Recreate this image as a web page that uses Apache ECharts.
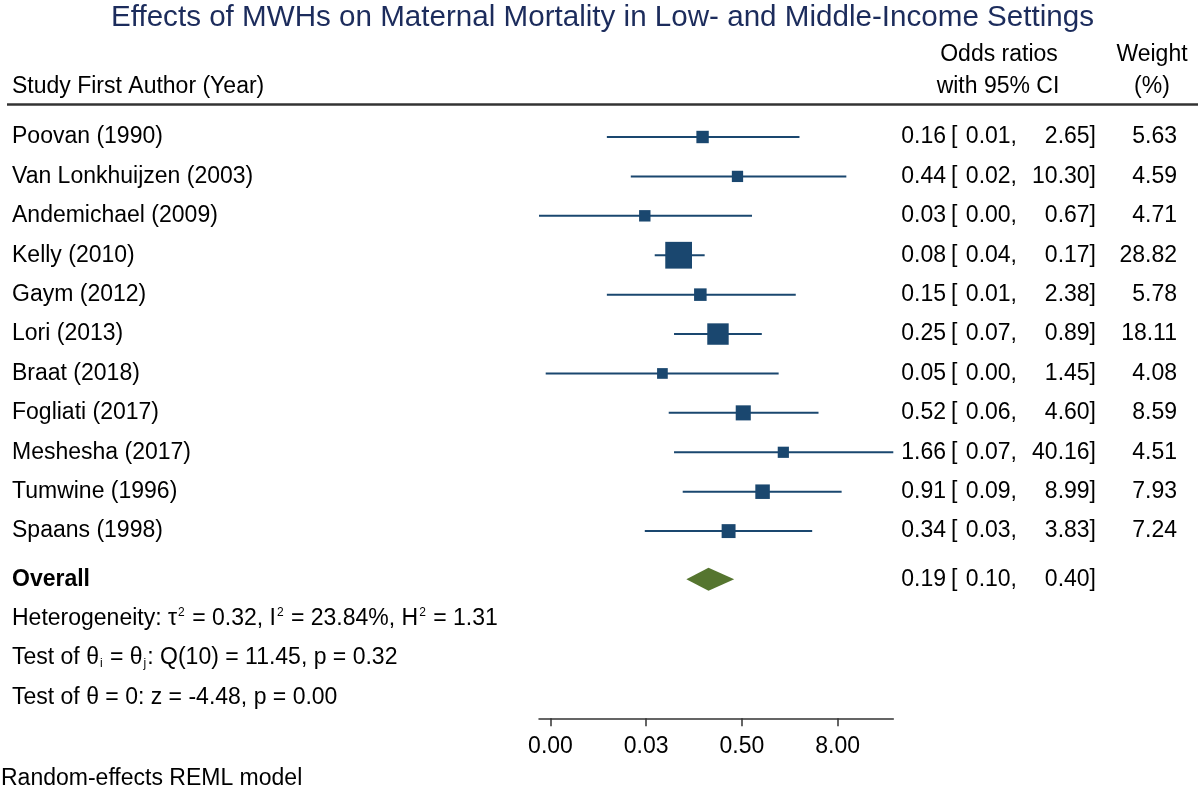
<!DOCTYPE html>
<html>
<head>
<meta charset="utf-8">
<script src="https://cdn.jsdelivr.net/npm/echarts@6/dist/echarts.min.js"></script>
<style>
html, body { margin: 0; padding: 0; background: #ffffff; }
#chart { width: 1200px; height: 790px; }
</style>
</head>
<body>
<div id="chart"></div>
<script>
// ---------------- data ----------------
const studies = ['Poovan (1990)', 'Van Lonkhuijzen (2003)', 'Andemichael (2009)', 'Kelly (2010)', 'Gaym (2012)',
  'Lori (2013)', 'Braat (2018)', 'Fogliati (2017)', 'Meshesha (2017)', 'Tumwine (1996)', 'Spaans (1998)'];
const oddsRatio = [0.16, 0.44, 0.03, 0.08, 0.15, 0.25, 0.05, 0.52, 1.66, 0.91, 0.34];
const ciLower = [0.01, 0.02, 0.0014, 0.04, 0.01, 0.07, 0.0017, 0.06, 0.07, 0.09, 0.03];
const ciUpper = [2.65, 10.30, 0.67, 0.17, 2.38, 0.89, 1.45, 4.60, 40.16, 8.99, 3.83];
const weights = [5.63, 4.59, 4.71, 28.82, 5.78, 18.11, 4.08, 8.59, 4.51, 7.93, 7.24];
const overallLabel = 'Overall';
const overallOR = 0.19, overallLower = 0.10, overallUpper = 0.40;
const statsLines = [
  'Heterogeneity: τ{sup|2} = 0.32, I{sup|2} = 23.84%, H{sup|2} = 1.31',
  'Test of θ{sub|i} = θ{sub|j}: Q(10) = 11.45, p = 0.32',
  'Test of θ = 0: z = -4.48, p = 0.00'
];
const tickValues = [0.001953125, 0.03125, 0.5, 8];
const tickLabels = ['0.00', '0.03', '0.50', '8.00'];
const titleText = 'Effects of MWHs on Maternal Mortality in Low- and Middle-Income Settings';
const footText = 'Random-effects REML model';

// ---------------- styling ----------------
const FONT = '"Liberation Sans", Arial, Helvetica, sans-serif';
const FS = 23;
const NAVY = '#1a476f';
const GREEN = '#55752f';
const L2 = v => Math.log2(v);
const xMin = L2(Math.min(...ciLower));
const xMax = L2(Math.max(...ciUpper));
const nStudies = studies.length;
const summaryRow = j => nStudies + 0.22 + j; // layout rows after the studies

// text columns (pixels)
const COL_NAME = 12, COL_EST = 946, COL_BRK = 951, COL_LO = 1017, COL_UP = 1096, COL_W = 1177;

function txt(text, x, y, align, extra) {
  return {
    type: 'text',
    style: Object.assign({
      text: text, x: x, y: y, align: align, verticalAlign: 'middle',
      fontSize: FS, fontFamily: FONT, fill: '#000'
    }, extra || {})
  };
}
function ciTexts(est, lo, up, y) {
  return [
    txt(est.toFixed(2), COL_EST, y, 'right'),
    txt('[', COL_BRK, y, 'left'),
    txt(lo.toFixed(2) + ',', COL_LO, y, 'right'),
    txt(up.toFixed(2) + ']', COL_UP, y, 'right')
  ];
}

const chart = echarts.init(document.getElementById('chart'), null, { renderer: 'canvas' });

const option = {
  backgroundColor: '#ffffff',
  animation: false,
  title: {
    text: titleText,
    left: 106,
    top: -2,
    textStyle: { fontSize: 29.6, fontWeight: 'normal', color: '#1c2c5c', fontFamily: FONT }
  },
  grid: { left: 539, right: 306.7, top: 103.5, bottom: 71.7, containLabel: false },
  xAxis: {
    type: 'value',
    min: xMin,
    max: xMax,
    splitLine: { show: false },
    axisLine: { show: true, onZero: false, lineStyle: { color: '#333', width: 1.5 } },
    axisTick: { show: true, length: 8, lineStyle: { color: '#333', width: 1.5 }, customValues: tickValues.map(L2) },
    axisLabel: {
      show: true, margin: 17, fontSize: FS, fontFamily: FONT, color: '#000',
      customValues: tickValues.map(L2),
      formatter: v => tickLabels[tickValues.map(L2).findIndex(t => Math.abs(t - v) < 1e-6)]
    }
  },
  yAxis: { type: 'value', inverse: true, min: -0.85, max: 14.75, show: false },
  graphic: [
    { type: 'text', style: { text: 'Study First Author (Year)', x: 12, y: 87, verticalAlign: 'middle', fontSize: FS, fontFamily: FONT, fill: '#000' } },
    { type: 'text', style: { text: 'Odds ratios', x: 999, y: 55, align: 'center', verticalAlign: 'middle', fontSize: FS, fontFamily: FONT, fill: '#000' } },
    { type: 'text', style: { text: 'with 95% CI', x: 998, y: 87, align: 'center', verticalAlign: 'middle', fontSize: FS, fontFamily: FONT, fill: '#000' } },
    { type: 'text', style: { text: 'Weight', x: 1152, y: 55, align: 'center', verticalAlign: 'middle', fontSize: FS, fontFamily: FONT, fill: '#000' } },
    { type: 'text', style: { text: '(%)', x: 1152, y: 87, align: 'center', verticalAlign: 'middle', fontSize: FS, fontFamily: FONT, fill: '#000' } },
    { type: 'line', shape: { x1: 7, y1: 104.5, x2: 1198, y2: 104.5 }, style: { stroke: '#333', lineWidth: 2.5 } },
    { type: 'text', style: { text: footText, x: 1, y: 779, verticalAlign: 'middle', fontSize: FS, fontFamily: FONT, fill: '#000' } }
  ],
  series: [
    {
      name: 'studies',
      type: 'custom',
      coordinateSystem: 'cartesian2d',
      clip: false,
      encode: { x: 0, y: 1 },
      data: oddsRatio.map((v, i) => [L2(v), i]),
      renderItem: function (params, api) {
        const i = params.dataIndex;
        const c = api.coord([L2(oddsRatio[i]), i]);
        const lo = api.coord([L2(ciLower[i]), i]);
        const up = api.coord([L2(ciUpper[i]), i]);
        const s = 4.8 * Math.sqrt(weights[i]) + 1;
        const y = c[1];
        const children = [
          { type: 'line', shape: { x1: lo[0], y1: y, x2: up[0], y2: y }, style: { stroke: NAVY, lineWidth: 2 } },
          { type: 'rect', shape: { x: c[0] - s / 2, y: y - s / 2, width: s, height: s }, style: { fill: NAVY } },
          txt(studies[i], COL_NAME, y, 'left')
        ].concat(ciTexts(oddsRatio[i], ciLower[i], ciUpper[i], y));
        children.push(txt(weights[i].toFixed(2), COL_W, y, 'right'));
        return { type: 'group', children: children };
      }
    },
    {
      name: 'overall',
      type: 'custom',
      coordinateSystem: 'cartesian2d',
      clip: false,
      encode: { x: 0, y: 1 },
      data: [[L2(overallOR), summaryRow(0)]],
      renderItem: function (params, api) {
        const r = summaryRow(0);
        const c = api.coord([L2(overallOR), r]);
        const lo = api.coord([L2(overallLower), r]);
        const up = api.coord([L2(overallUpper), r]);
        const y = c[1], h = 23;
        const children = [
          { type: 'polygon', shape: { points: [[lo[0], y], [c[0], y - h / 2], [up[0], y], [c[0], y + h / 2]] }, style: { fill: GREEN } },
          txt(overallLabel, COL_NAME, y, 'left', { fontWeight: 'bold' })
        ].concat(ciTexts(overallOR, overallLower, overallUpper, y));
        return { type: 'group', children: children };
      }
    },
    {
      name: 'stats',
      type: 'custom',
      coordinateSystem: 'cartesian2d',
      clip: false,
      encode: { x: 0, y: 1 },
      data: statsLines.map((s, j) => [xMin, summaryRow(j + 1)]),
      renderItem: function (params, api) {
        const j = params.dataIndex;
        const y = api.coord([xMin, summaryRow(j + 1)])[1];
        return txt(statsLines[j], COL_NAME, y, 'left', {
          rich: {
            sup: { fontSize: 12, fontFamily: FONT, fill: '#000', verticalAlign: 'top', lineHeight: 12, padding: [0, 1, 11, 1] },
            sub: { fontSize: 12, fontFamily: FONT, fill: '#000', verticalAlign: 'bottom', lineHeight: 12, padding: [8, 1, 0, 1] }
          }
        });
      }
    }
  ]
};
chart.setOption(option);
</script>
</body>
</html>
